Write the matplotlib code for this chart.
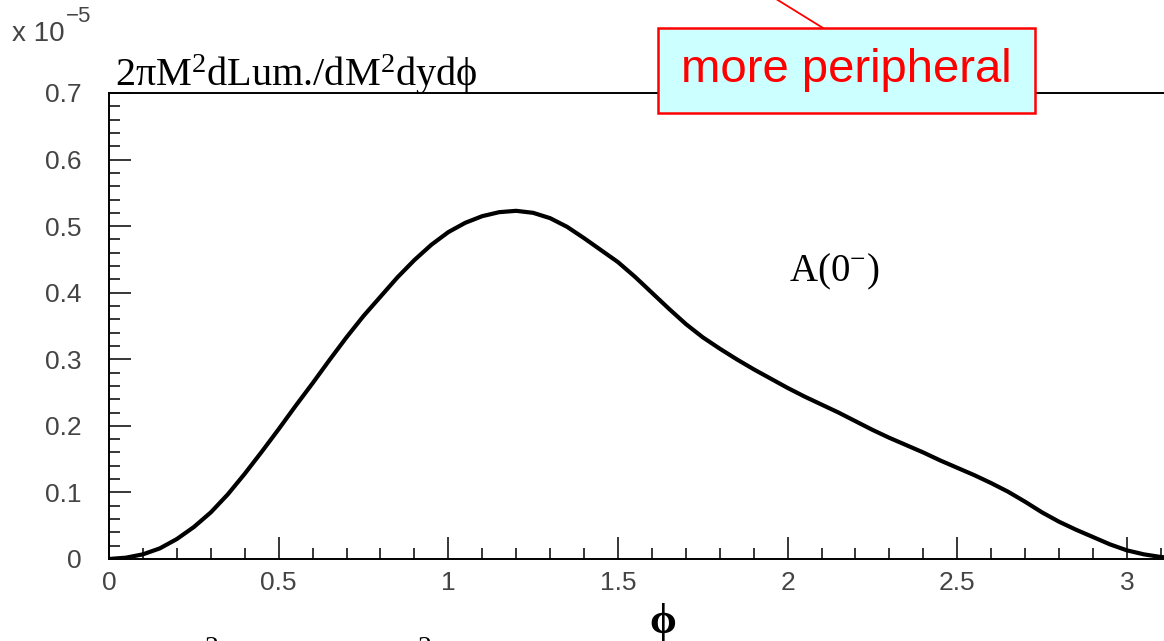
import numpy as np
import matplotlib
matplotlib.use('Agg')
import matplotlib.pyplot as plt
from matplotlib.ticker import MultipleLocator, FixedFormatter, FixedLocator
from matplotlib.patches import Rectangle
from matplotlib.lines import Line2D

# curve (values in units of 1e-5)
phi = [0.00, 0.05, 0.10, 0.15, 0.20, 0.25, 0.30, 0.35, 0.40, 0.45,
       0.50, 0.55, 0.60, 0.65, 0.70, 0.75, 0.80, 0.85, 0.90, 0.95,
       1.00, 1.05, 1.10, 1.15, 1.20, 1.25, 1.30, 1.35, 1.40, 1.45,
       1.50, 1.55, 1.60, 1.65, 1.70, 1.75, 1.80, 1.85, 1.90, 1.95,
       2.00, 2.05, 2.10, 2.15, 2.20, 2.25, 2.30, 2.35, 2.40, 2.45,
       2.50, 2.55, 2.60, 2.65, 2.70, 2.75, 2.80, 2.85, 2.90, 2.95,
       3.00, 3.05, 3.10, np.pi]
lum = [0.000, 0.002, 0.007, 0.016, 0.030, 0.048, 0.070, 0.097, 0.128, 0.161,
       0.195, 0.230, 0.264, 0.299, 0.333, 0.365, 0.394, 0.423, 0.449, 0.472,
       0.491, 0.505, 0.515, 0.521, 0.523, 0.520, 0.512, 0.499, 0.482, 0.464,
       0.446, 0.424, 0.400, 0.376, 0.353, 0.333, 0.316, 0.300, 0.285, 0.271,
       0.257, 0.244, 0.232, 0.220, 0.207, 0.194, 0.182, 0.171, 0.160, 0.148,
       0.137, 0.126, 0.114, 0.101, 0.086, 0.070, 0.056, 0.044, 0.033, 0.022,
       0.013, 0.007, 0.003, 0.001]

xticks = [0, 0.5, 1, 1.5, 2, 2.5, 3]
xticklabels = ['0', '0.5', '1', '1.5', '2', '2.5', '3']
yticks = [0, 0.1, 0.2, 0.3, 0.4, 0.5, 0.6, 0.7]
yticklabels = ['0', '0.1', '0.2', '0.3', '0.4', '0.5', '0.6', '0.7']

W, H = 1164, 641
plt.rcParams['mathtext.fontset'] = 'custom'
plt.rcParams['mathtext.rm'] = 'Liberation Serif'
plt.rcParams['mathtext.it'] = 'Liberation Serif:italic'

fig = plt.figure(figsize=(W / 100, H / 100), dpi=100)

def fx(x):
    return x / W

def fy(y):
    return 1 - y / H

x0, x1 = 109, 109 + 339.3 * np.pi
y0, y1 = 559, 93
ax = fig.add_axes([fx(x0), fy(y0), fx(x1) - fx(x0), fy(y1) - fy(y0)])
ax.plot(phi, lum, color='black', lw=3.0, solid_capstyle='round')
ax.set_xlim(0, np.pi)
ax.set_ylim(0, 0.7)

ax.xaxis.set_major_locator(FixedLocator(xticks))
ax.xaxis.set_major_formatter(FixedFormatter(xticklabels))
ax.xaxis.set_minor_locator(MultipleLocator(0.1))
ax.yaxis.set_major_locator(FixedLocator(yticks))
ax.yaxis.set_major_formatter(FixedFormatter(yticklabels))
ax.yaxis.set_minor_locator(MultipleLocator(0.02))

ax.tick_params(which='both', direction='in', top=False, right=False, width=1.1,
               colors='black', labelcolor='#444444', labelsize=19)
ax.tick_params(which='major', length=16)
ax.tick_params(which='minor', length=8)
ax.tick_params(axis='x', pad=9)
ax.tick_params(axis='y', pad=20)
for lab in ax.get_xticklabels() + ax.get_yticklabels():
    lab.set_family('Liberation Sans')
for s in ['left', 'bottom', 'top']:
    ax.spines[s].set_linewidth(1.4)
ax.spines['right'].set_visible(False)

# exponent
fig.text(fx(12), fy(41), 'x 10', fontsize=20, color='#444444',
         family='Liberation Sans', va='baseline')
fig.text(fx(66), fy(22), '\u22125', fontsize=16, color='#444444',
         family='Liberation Sans', va='baseline')

# title
fig.text(fx(115), fy(86), '2\u03c0M$^{2}$dLum./dM$^{2}$dyd\u03d5', fontsize=29,
         family=['Liberation Serif', 'DejaVu Serif'], va='baseline', color='black')

# curve label
fig.text(fx(789), fy(281), 'A(0$^{\u2212}$)', fontsize=28,
         family='Liberation Serif', va='baseline', color='black')

# x label
fig.text(fx(663), fy(622), '\u03d5', fontsize=31, fontweight='bold',
         family=['Liberation Serif', 'DejaVu Serif'], ha='center', va='center')

# cut-off superscripts at the bottom edge
fig.text(fx(212), fy(636), '2', fontsize=20, family='Liberation Serif',
         ha='center', va='top')
fig.text(fx(425), fy(636), '2', fontsize=20, family='Liberation Serif',
         ha='center', va='top')

# annotation box
fig.add_artist(Line2D([fx(823), fx(760)], [fy(28), fy(-11)], color='red', lw=1.3,
                      transform=fig.transFigure))
box = Rectangle((fx(658), fy(113)), fx(1035) - fx(658), fy(28) - fy(113),
                transform=fig.transFigure, facecolor='#ccffff', edgecolor='red',
                lw=1.8, zorder=5)
fig.add_artist(box)
fig.text(fx(846), fy(70), 'more peripheral', fontsize=34, color='red',
         family='Liberation Sans', ha='center', va='center', zorder=6)

fig.savefig('out.png', dpi=100)
